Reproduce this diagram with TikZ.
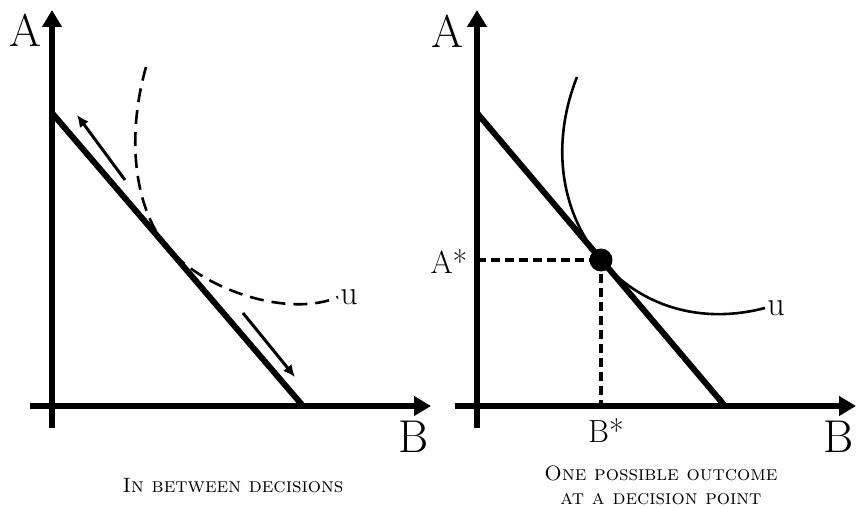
\documentclass[tikz,border=0pt]{standalone}
\usetikzlibrary{arrows.meta, positioning}

\begin{document}
\begin{tikzpicture}[x=0.5pt, y=-0.5pt, >=Stealth,
    axis/.style={line width=3pt, -{Triangle[length=8.5pt, width=9.5pt]}},
    budget/.style={line width=3pt},
    indiff/.style={line width=1.3pt},
    shiftarrow/.style={line width=1.5pt, -{Latex[length=6pt, width=5.5pt]}},
    guide/.style={line width=2pt, dash pattern=on 4.5pt off 2.5pt},
    axlabel/.style={font=\fontsize{23}{23}\selectfont, inner sep=0pt},
    starlabel/.style={font=\fontsize{16}{16}\selectfont, inner sep=0pt},
    caption/.style={font=\fontsize{10.4}{12}\selectfont\scshape, align=center, inner sep=0pt}]
  \useasboundingbox (0,0) rectangle (857,508);

  % Axes of both panels
  \foreach \ox/\nm in {52/L, 477/R} {
    \coordinate (ytop\nm) at (\ox, 10);
    \coordinate (ybot\nm) at (\ox, 428);
    \coordinate (xlft\nm) at (\ox-22, 406);
    \coordinate (xrgt\nm) at (\ox+379, 406);
    \draw[axis] (ybot\nm) -- (ytop\nm);
    \draw[axis] (xlft\nm) -- (xrgt\nm);
  }
  \node[axlabel] (AL) at (25, 30) {A};
  \node[axlabel] (BL) at (414, 437) {B};
  \node[axlabel] (AR) at (447, 31) {A};
  \node[axlabel] (BR) at (839, 437) {B};

  % Panel 1: in between decisions
  \coordinate (budtopL) at (52, 113);
  \coordinate (budbotL) at (303, 406);
  \draw[budget] (budtopL) -- (budbotL);
  \draw[indiff, dash pattern=on 7pt off 4pt] (146, 67)
    .. controls (128, 130) and (131, 205) .. (168, 248)
    .. controls (205, 291) and (290, 318) .. (338, 297)
    node[right=0.5pt, font=\fontsize{17}{17}\selectfont, inner sep=0pt] (uL) {u};
  \coordinate (upS) at (125, 180);
  \coordinate (upE) at (77, 115);
  \coordinate (dnS) at (243, 313);
  \coordinate (dnE) at (295, 377);
  \draw[shiftarrow] (upS) -- (upE);
  \draw[shiftarrow] (dnS) -- (dnE);
  \node[caption] (capL) at (233, 486) {In between decisions};

  % Panel 2: one possible outcome
  \coordinate (budtopR) at (477, 113);
  \coordinate (budbotR) at (725, 406);
  \draw[budget] (budtopR) -- (budbotR);
  \draw[indiff] (577, 77)
    .. controls (552, 140) and (558, 209) .. (601, 260)
    .. controls (640, 306) and (700, 325) .. (765, 308)
    node[right=0.5pt, font=\fontsize{17}{17}\selectfont, inner sep=0pt] (uR) {u};
  \coordinate (opt) at (601, 260);
  \coordinate (optA) at (477, 260);
  \coordinate (optB) at (601, 406);
  \draw[guide] (optA) -- (opt);
  \draw[guide] (opt) -- (optB);
  \node[circle, fill, minimum size=11.5pt, inner sep=0pt] (dot) at (opt) {};
  \node[starlabel] (Astar) at (449, 262) {A*};
  \node[starlabel] (Bstar) at (606, 431) {B*};
  \node[caption] (capR) at (661, 485) {One possible outcome\\at a decision point};
\end{tikzpicture}
\end{document}
